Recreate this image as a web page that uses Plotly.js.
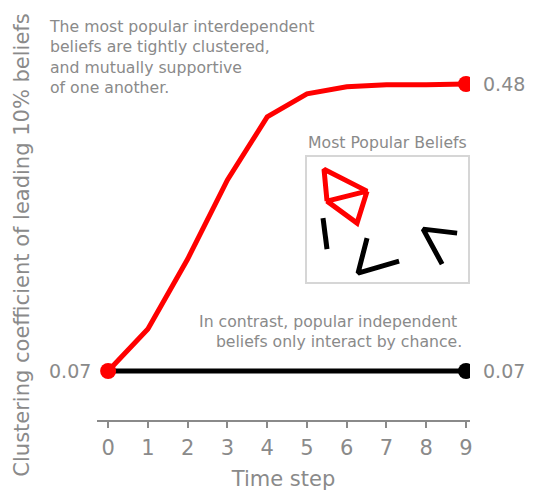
<!DOCTYPE html>
<html><head><meta charset="utf-8">
<script src="https://cdn.plot.ly/plotly-3.0.1.min.js"></script>
<style>html,body{margin:0;padding:0;background:#fff}#chart{width:538px;height:493px}</style>
</head><body><div id="chart"></div>
<script>
// Main series
const timeSteps = [0,1,2,3,4,5,6,7,8,9];
const interdependent = [0.07,0.13,0.23,0.343,0.433,0.466,0.476,0.479,0.479,0.48];
const independent = [0.07,0.07,0.07,0.07,0.07,0.07,0.07,0.07,0.07,0.07];
// Inset sketch (box-local units, y downward), null separates segments
const insetRedX = [20,17,60,20,50,60];
const insetRedY = [44,12,34,44,66,34];
const insetBlackX = [16,20,null,60,51,92,null,150,116,135];
const insetBlackY = [61,92,null,81,116,104,null,76,72,107];

const grey = '#8a8a8a';
const font = 'DejaVu Sans, sans-serif';
const last = timeSteps.length - 1;

const traces = [
  {x: timeSteps, y: independent, mode: 'lines', line: {color: '#000', width: 5}, hoverinfo: 'skip'},
  {x: timeSteps, y: interdependent, mode: 'lines', line: {color: '#ff0000', width: 5}, hoverinfo: 'skip'},
  {x: [timeSteps[last]], y: [independent[last]], mode: 'markers', marker: {color: '#000', size: 16}},
  {x: [timeSteps[0], timeSteps[last]], y: [interdependent[0], interdependent[last]], mode: 'markers', marker: {color: '#ff0000', size: 16}},
  {x: insetRedX, y: insetRedY, xaxis: 'x2', yaxis: 'y2', mode: 'lines', line: {color: '#ff0000', width: 5}, connectgaps: false},
  {x: insetBlackX, y: insetBlackY, xaxis: 'x2', yaxis: 'y2', mode: 'lines', line: {color: '#000', width: 5}, connectgaps: false}
];

const annFont = {size: 15.7, color: grey};
const layout = {
  width: 538, height: 493,
  margin: {l: 97, r: 68, t: 70, b: 73},
  paper_bgcolor: '#fff', plot_bgcolor: 'rgba(0,0,0,0)',
  showlegend: false,
  font: {family: font, color: grey},
  xaxis: {
    range: [-0.28, 9.1], showline: true, linecolor: grey, linewidth: 2,
    ticks: 'outside', ticklen: 6, tickwidth: 2, tickcolor: grey,
    tickvals: timeSteps, tickfont: {size: 21, color: grey}, ticklabelstandoff: 2,
    showgrid: false, zeroline: false,
    title: {text: 'Time step', font: {size: 21, color: grey}, standoff: 12}
  },
  yaxis: {
    range: [0, 0.5], showline: false, showticklabels: false, ticks: '',
    showgrid: false, zeroline: false,
    title: {text: 'Clustering coefficient of leading 10% beliefs', font: {size: 21, color: grey}, standoff: 60}
  },
  xaxis2: {domain: [0.563, 0.995], anchor: 'y2', range: [0, 161], showline: true, mirror: true,
    linecolor: '#d6d6d6', linewidth: 2, showticklabels: false, ticks: '', showgrid: false, zeroline: false},
  yaxis2: {domain: [0.394, 0.751], anchor: 'x2', range: [125, 0], showline: true, mirror: true,
    linecolor: '#d6d6d6', linewidth: 2, showticklabels: false, ticks: '', showgrid: false, zeroline: false},
  annotations: [
    {xref: 'x', yref: 'y', x: timeSteps[0], y: interdependent[0], text: interdependent[0].toFixed(2),
     showarrow: false, xanchor: 'right', xshift: -15, font: {size: 19, color: grey}},
    {xref: 'x', yref: 'y', x: timeSteps[last], y: interdependent[last], text: interdependent[last].toFixed(2),
     showarrow: false, xanchor: 'left', xshift: 15, font: {size: 19, color: grey}},
    {xref: 'x', yref: 'y', x: timeSteps[last], y: independent[last], text: independent[last].toFixed(2),
     showarrow: false, xanchor: 'left', xshift: 15, font: {size: 19, color: grey}},
    {xref: 'paper', yref: 'paper', x: -0.133, y: 1.037, xanchor: 'left', yanchor: 'middle', align: 'left',
     text: 'The most popular interdependent<br>beliefs are tightly clustered,<br>and mutually supportive<br>of one another.',
     showarrow: false, font: annFont},
    {xref: 'paper', yref: 'paper', x: 0.985, y: 0.254, xanchor: 'right', yanchor: 'middle', align: 'right',
     text: 'In contrast, popular independent <br>beliefs only interact by chance.',
     showarrow: false, font: annFont},
    {xref: 'paper', yref: 'paper', x: 0.78, y: 0.794, xanchor: 'center', yanchor: 'middle',
     text: 'Most Popular Beliefs', showarrow: false, font: annFont}
  ]
};
Plotly.newPlot('chart', traces, layout, {staticPlot: true});
</script></body></html>
